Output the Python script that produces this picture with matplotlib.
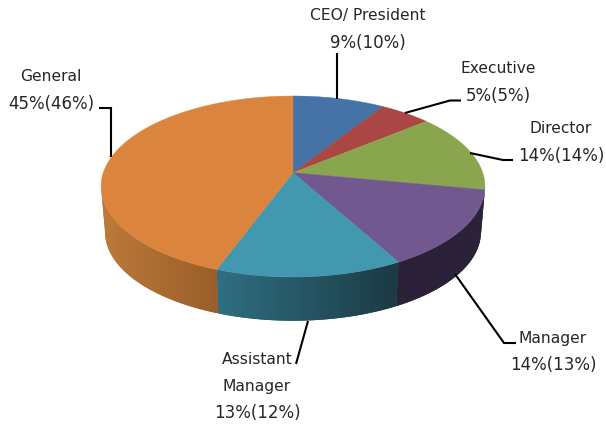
import numpy as np
import matplotlib
matplotlib.use("Agg")
import matplotlib.pyplot as plt
from matplotlib.patches import Polygon
from matplotlib.colors import to_rgb

# Data
categories = ["CEO/ President", "Executive", "Director", "Manager", "Assistant\nManager", "General"]
value_labels = ["9%(10%)", "5%(5%)", "14%(14%)", "14%(13%)", "13%(12%)", "45%(46%)"]
slice_shares = [9, 5, 14, 14, 13.6, 44.4]  # slice sizes

# Style
top_colors = ["#4572A7", "#AA4643", "#89A54E", "#71588F", "#4198AF", "#DB843D"]
side_from = ["#2D4A6D", "#6E2D2B", "#2B2138", "#2B2138", "#2F6F82", "#BC7A3A"]
side_to = ["#2D4A6D", "#6E2D2B", "#2B2138", "#2B2138", "#1B3A44", "#9A5E2A"]

# Label layout in pixels: centre x, y of each text line, leader polyline
label_x = [368, 498, 561, 553, 257, 51]
label_y = [[15, 43], [68, 96], [128, 156], [338, 365], [359, 387, 413], [76, 104]]
leaders = [
    [(337, 53), (337, 99)],
    [(405, 113), (450, 100.5), (461, 100.5)],
    [(470, 153), (503, 160), (513, 160)],
    [(455, 274), (504, 343), (516, 343)],
    [(308, 321), (296, 364)],
    [(99, 108), (111, 108), (111, 157)],
]

# Perspective of the pie disc
k = 0.1525
cx, top_y, bottom_y = 293, 172.7, 218.6
rx, ry = 189.7, 88.4
shrink = 0.979


def project(angle, y0, scale=1.0):
    u, v = np.sin(angle), np.cos(angle)
    d = 1 + k * v
    return cx + scale * rx * u / d, y0 - scale * ry * v / d


fig = plt.figure(figsize=(6.06, 4.25), dpi=100)
ax = fig.add_axes([0, 0, 1, 1])
ax.axis("off")

edges = np.cumsum([0] + slice_shares) / 100 * 2 * np.pi

# Side wall, only the part in front of the disc's silhouette points
for i in range(len(slice_shares)):
    t = np.linspace(edges[i], edges[i + 1], 400)
    t = t[np.cos(t) <= -k]
    if len(t) < 2:
        continue
    tx, ty = project(t, top_y)
    bx, by = project(t, bottom_y, shrink)
    wall = np.c_[np.r_[tx, bx[::-1]], np.r_[ty, by[::-1]]]
    c0, c1 = np.array(to_rgb(side_from[i])), np.array(to_rgb(side_to[i]))
    # flat base colour gives the wall a smooth outer edge, the gradient goes on top
    ax.add_patch(Polygon(wall, closed=True, facecolor=(c0 + c1) / 2, edgecolor="none", zorder=1))
    clip = Polygon(wall, closed=True, transform=ax.transData)
    grad = np.linspace(c0, c1, 64)[None, :, :]
    ax.imshow(grad, extent=[wall[:, 0].min(), wall[:, 0].max(), wall[:, 1].max(), wall[:, 1].min()],
              aspect="auto", interpolation="bilinear", clip_path=clip, zorder=1.5)

# Top face
for i in range(len(slice_shares)):
    t = np.linspace(edges[i], edges[i + 1], 120)
    tx, ty = project(t, top_y)
    ax.fill(np.r_[cx, tx], np.r_[top_y, ty], color=top_colors[i], lw=0.3, zorder=2)

# Leaders and labels
for line in leaders:
    xs, ys = zip(*line)
    ax.plot(xs, ys, color="black", lw=1.5, solid_joinstyle="miter", solid_capstyle="butt", zorder=3)

for i, name in enumerate(categories):
    lines = name.split("\n")
    for text, y in zip(lines, label_y[i]):
        ax.text(label_x[i], y, text, ha="center", va="center", fontsize=11.2, color="#262626")
    ax.text(label_x[i], label_y[i][-1], value_labels[i], ha="center", va="center", fontsize=12, color="#262626")

ax.set_xlim(0, 606), ax.set_ylim(425, 0)
fig.savefig("out.png", dpi=100)
